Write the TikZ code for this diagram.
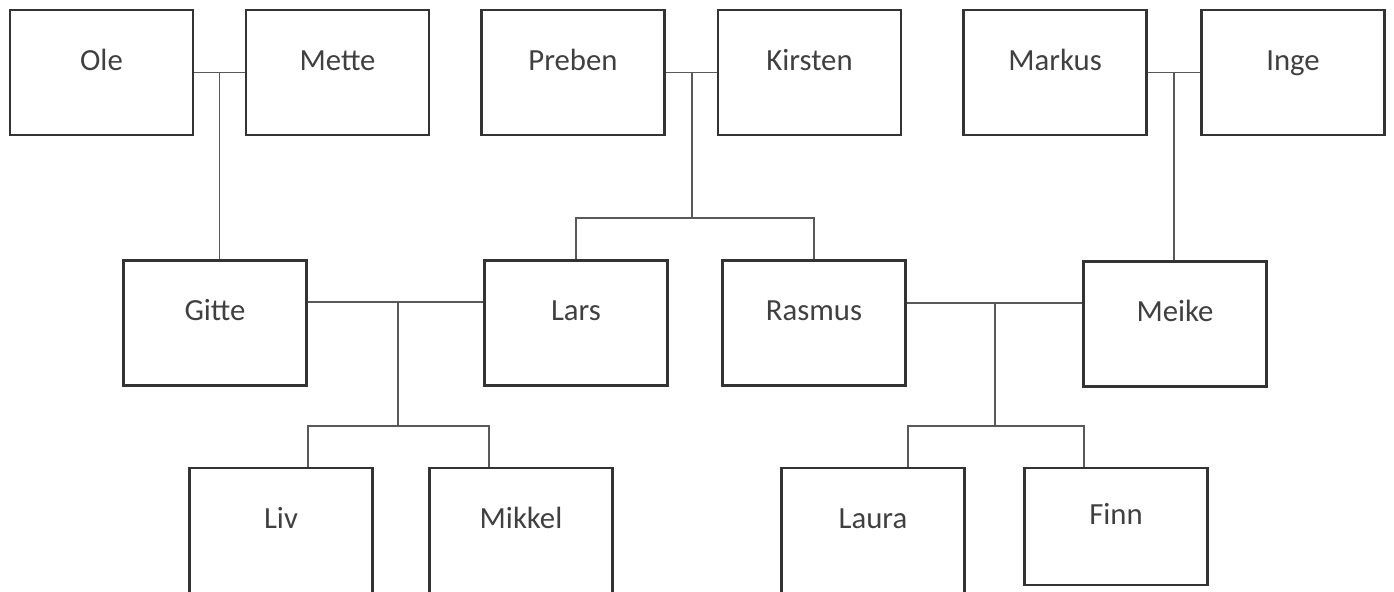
\documentclass[tikz,border=0pt]{standalone}
\usepackage{fontspec}
\setmainfont{Carlito}
\tikzset{
  personbox/.style={rectangle,draw=black!80,line width=1.3pt,
    minimum width=3.66cm,minimum height=2.5cm,inner sep=0pt,
    text height=0.45cm,text depth=0.55cm,
    font=\fontsize{17.5}{20}\selectfont,text=black!75},
  kinline/.style={line width=0.8pt,black!65}
}
\begin{document}
\begin{tikzpicture}[x=0.02cm,y=-0.02cm]
  \useasboundingbox (0,0) rectangle (1394,592);

  % grandparents
  \node[personbox] (ole) at (101.5,72.5) {Ole};
  \node[personbox] (mette) at (337.5,72.5) {Mette};
  \node[personbox] (preben) at (573,72.5) {Preben};
  \node[personbox] (kirsten) at (809.5,72.5) {Kirsten};
  \node[personbox] (markus) at (1055,72.5) {Markus};
  \node[personbox] (inge) at (1293,72.5) {Inge};

  % parents
  \node[personbox] (gitte) at (215,323) {Gitte};
  \node[personbox] (lars) at (576,323) {Lars};
  \node[personbox] (rasmus) at (814,323) {Rasmus};
  \node[personbox] (meike) at (1175,324) {Meike};

  % children
  \node[personbox] (liv) at (281,530.5) {Liv};
  \node[personbox] (mikkel) at (521,530.5) {Mikkel};
  \node[personbox] (laura) at (873,530.5) {Laura};
  \node[personbox,minimum height=2.34cm] (finn) at (1116,526.5) {Finn};

  % junctions
  \coordinate (omid) at (219.5,72.5);
  \coordinate (pkmid) at (692,72.5);
  \coordinate (pkkids) at (692,218);
  \coordinate (mimid) at (1174,72.5);
  \coordinate (glmid) at (398,302);
  \coordinate (glkids) at (398,426);
  \coordinate (rmmid) at (995,303);
  \coordinate (rmkids) at (995,426);

  \draw[kinline] (ole) -- (mette);
  \draw[kinline] (omid) -- (omid |- gitte.north);
  \draw[kinline] (preben) -- (kirsten);
  \draw[kinline] (pkmid) -- (pkkids);
  \draw[kinline] (lars.north) |- (pkkids) -| (rasmus.north);
  \draw[kinline] (markus) -- (inge);
  \draw[kinline] (mimid) -- (mimid |- meike.north);

  \draw[kinline] (gitte.east |- glmid) -- (lars.west |- glmid);
  \draw[kinline] (glmid) -- (glkids);
  \draw[kinline] (308,0 |- liv.north) |- (glkids) -| (489,0 |- mikkel.north);
  \draw[kinline] (rasmus.east |- rmmid) -- (meike.west |- rmmid);
  \draw[kinline] (rmmid) -- (rmkids);
  \draw[kinline] (908,0 |- laura.north) |- (rmkids) -| (1084,0 |- finn.north);
\end{tikzpicture}
\end{document}
